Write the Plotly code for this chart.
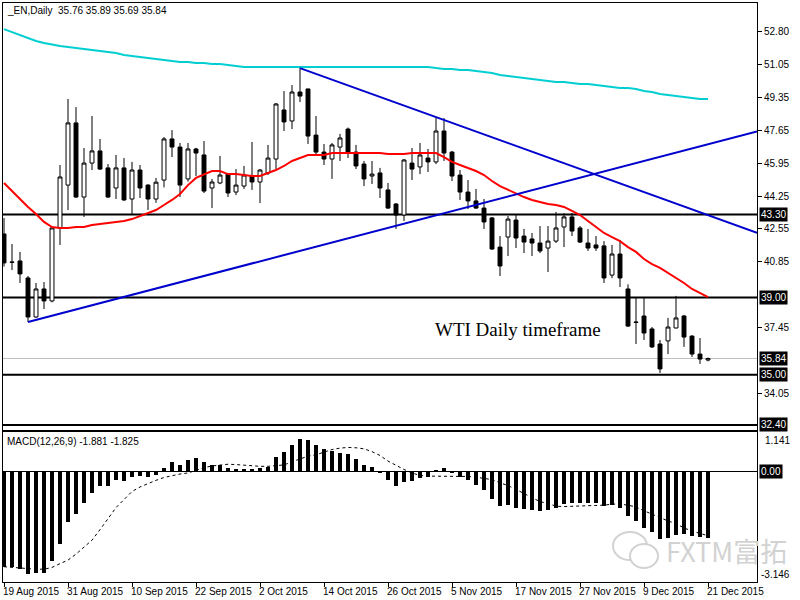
import plotly.graph_objects as go

# bar index 0 = 19 Aug 2015 ... 88 = 21 Dec 2015 (daily bars)
bars = list(range(89))

opens = [42.29, 40.84, 40.89, 40.01, 37.99, 39.44, 38.82, 42.60, 44.82, 48.04,
         44.20, 45.96, 46.59, 45.71, 44.67, 45.71, 44.10, 45.60, 44.82, 44.10,
         45.08, 47.21, 46.79, 45.14, 46.69, 46.38, 44.67, 44.93, 45.39, 44.46,
         44.77, 45.29, 44.98, 45.45, 46.17, 48.71, 48.14, 49.64, 49.80, 47.41,
         46.53, 46.17, 46.79, 47.72, 46.53, 45.91, 45.29, 45.45, 44.57, 43.84,
         43.27, 45.96, 45.76, 46.22, 46.02, 47.62, 46.53, 45.34, 44.46, 44.00,
         43.63, 43.12, 41.61, 42.13, 43.01, 42.18, 42.03, 41.82, 41.56, 41.92,
         42.65, 43.17, 42.60, 41.82, 41.72, 41.67, 40.16, 41.25, 39.44, 37.73,
         38.04, 37.37, 36.59, 36.75, 37.42, 38.04, 37.00, 36.07, 35.76]
highs = [43.12, 41.77, 41.36, 40.11, 39.75, 39.80, 42.65, 45.86, 49.28, 48.86,
         46.74, 48.40, 47.21, 45.91, 46.38, 46.22, 46.02, 45.86, 44.87, 45.19,
         47.31, 47.67, 47.00, 47.00, 46.75, 47.10, 45.14, 46.33, 45.45, 45.65,
         45.81, 47.05, 45.65, 46.90, 49.07, 49.69, 50.00, 50.88, 49.80, 48.40,
         46.95, 47.00, 47.47, 47.80, 46.90, 46.07, 46.07, 45.71, 44.93, 43.89,
         46.17, 46.74, 47.00, 46.69, 48.35, 48.29, 46.59, 45.60, 45.08, 44.62,
         44.10, 43.17, 42.18, 43.22, 43.27, 42.55, 42.34, 42.70, 42.70, 43.43,
         43.37, 43.37, 42.70, 42.55, 42.18, 41.92, 41.72, 41.98, 39.68, 39.02,
         38.97, 37.47, 36.80, 37.94, 39.08, 38.10, 37.05, 36.90, 35.89]
lows = [40.60, 40.42, 39.75, 37.73, 37.95, 38.40, 38.75, 41.72, 43.53, 44.15,
        43.17, 45.60, 45.60, 44.15, 44.10, 44.00, 43.27, 44.15, 43.53, 43.90,
        44.70, 46.27, 44.20, 45.00, 45.29, 44.41, 43.63, 44.87, 44.20, 44.30,
        44.62, 44.57, 43.89, 45.34, 45.65, 47.62, 47.72, 49.12, 46.95, 46.38,
        45.86, 45.14, 46.07, 46.22, 45.65, 44.77, 44.88, 44.15, 43.58, 42.55,
        42.96, 45.08, 45.39, 45.50, 45.91, 46.07, 45.03, 44.05, 43.58, 43.58,
        42.55, 41.46, 40.11, 41.15, 41.56, 41.30, 41.15, 41.30, 40.32, 41.82,
        41.61, 42.18, 41.82, 41.41, 41.41, 39.75, 40.00, 39.54, 37.47, 36.59,
        36.80, 36.38, 35.09, 36.07, 37.40, 36.44, 35.92, 35.56, 35.69]
closes = [40.79, 40.82, 40.22, 37.99, 39.44, 38.82, 42.60, 45.24, 48.04, 44.20,
          45.96, 46.59, 45.65, 44.20, 45.71, 44.05, 45.60, 44.67, 44.10, 44.97,
          47.21, 46.79, 44.82, 46.69, 46.48, 44.51, 44.98, 45.34, 44.41, 44.82,
          45.34, 44.98, 45.60, 46.22, 49.02, 48.09, 49.64, 49.43, 47.36, 46.53,
          46.17, 46.90, 47.26, 46.48, 45.81, 45.14, 45.39, 44.67, 43.63, 43.27,
          46.12, 45.65, 46.38, 46.02, 47.62, 46.48, 45.29, 44.46, 44.00, 43.63,
          42.91, 41.51, 40.63, 43.06, 42.08, 41.87, 41.82, 41.41, 41.92, 42.60,
          43.17, 42.44, 41.87, 41.56, 41.56, 40.01, 41.25, 40.01, 37.52, 37.71,
          37.16, 36.44, 35.30, 37.47, 37.94, 36.95, 36.07, 35.81, 35.84]

ma_fast = [44.93, 44.51, 44.10, 43.69, 43.32, 42.91, 42.65, 42.60, 42.60, 42.65,
           42.65, 42.75, 42.81, 42.86, 42.91, 42.96, 43.06, 43.22, 43.37, 43.53,
           43.79, 44.05, 44.36, 44.82, 45.19, 45.39, 45.55, 45.55, 45.39, 45.39,
           45.34, 45.29, 45.29, 45.45, 45.60, 45.81, 46.07, 46.22, 46.38, 46.38,
           46.38, 46.48, 46.48, 46.48, 46.48, 46.48, 46.48, 46.48, 46.43, 46.43,
           46.43, 46.48, 46.48, 46.48, 46.48, 46.27, 46.02, 45.86, 45.71, 45.55,
           45.34, 45.03, 44.77, 44.57, 44.41, 44.20, 44.05, 43.94, 43.84, 43.79,
           43.69, 43.48, 43.27, 42.96, 42.65, 42.34, 42.13, 41.92, 41.61, 41.36,
           40.99, 40.73, 40.53, 40.27, 40.01, 39.75, 39.44, 39.23, 39.02]
ma_slow = [52.90, 52.75, 52.59, 52.44, 52.28, 52.18, 52.08, 52.02, 51.97, 51.92,
           51.87, 51.82, 51.76, 51.71, 51.66, 51.56, 51.51, 51.45, 51.40, 51.35,
           51.30, 51.25, 51.19, 51.19, 51.14, 51.14, 51.09, 51.09, 51.04, 50.99,
           50.94, 50.94, 50.94, 50.94, 50.94, 50.94, 50.94, 50.94, 50.94, 50.94,
           50.94, 50.94, 50.94, 50.94, 50.94, 50.94, 50.94, 50.94, 50.94, 50.94,
           50.94, 50.94, 50.94, 50.94, 50.88, 50.83, 50.83, 50.78, 50.78, 50.73,
           50.68, 50.62, 50.52, 50.47, 50.42, 50.37, 50.31, 50.26, 50.21, 50.16,
           50.16, 50.11, 50.06, 50.06, 50.00, 49.95, 49.90, 49.85, 49.85, 49.80,
           49.69, 49.64, 49.54, 49.49, 49.43, 49.38, 49.33, 49.28, 49.28]

macd_main = [-2.73, -2.73, -2.78, -2.92, -2.90, -2.90, -2.54, -2.07, -1.44, -1.21,
             -0.90, -0.59, -0.41, -0.39, -0.24, -0.27, -0.14, -0.12, -0.14, -0.10,
             0.12, 0.27, 0.21, 0.33, 0.39, 0.27, 0.21, 0.21, 0.10, 0.07,
             0.07, 0.07, 0.11, 0.15, 0.44, 0.58, 0.78, 0.95, 0.90, 0.78,
             0.65, 0.59, 0.55, 0.50, 0.38, 0.21, 0.13, -0.03, -0.24, -0.41,
             -0.30, -0.27, -0.17, -0.14, 0.03, 0.10, -0.02, -0.14, -0.24, -0.38,
             -0.52, -0.76, -0.98, -0.95, -1.02, -1.07, -1.10, -1.12, -1.10, -1.03,
             -0.92, -0.88, -0.88, -0.88, -0.88, -0.97, -0.94, -1.04, -1.27, -1.41,
             -1.59, -1.72, -1.92, -1.90, -1.81, -1.78, -1.84, -1.86, -1.881]
macd_signal = [-2.71, -2.73, -2.75, -2.77, -2.78, -2.78, -2.73, -2.62, -2.52, -2.35,
               -2.16, -1.95, -1.65, -1.32, -1.02, -0.79, -0.56, -0.43, -0.33, -0.24,
               -0.16, -0.10, -0.06, -0.03, 0.05, 0.12, 0.17, 0.20, 0.22, 0.21,
               0.19, 0.17, 0.16, 0.16, 0.17, 0.20, 0.29, 0.38, 0.45, 0.49,
               0.56, 0.64, 0.68, 0.70, 0.69, 0.66, 0.58, 0.47, 0.31, 0.18,
               0.07, -0.03, -0.10, -0.12, -0.12, -0.12, -0.12, -0.12, -0.13, -0.15,
               -0.18, -0.22, -0.31, -0.39, -0.50, -0.62, -0.73, -0.85, -0.90, -0.98,
               -0.99, -0.98, -0.97, -0.97, -0.97, -0.95, -0.92, -0.92, -0.95, -1.00,
               -1.11, -1.21, -1.30, -1.40, -1.48, -1.60, -1.69, -1.76, -1.825]

# trend lines (bar index, price)
trend_up_x = [3, 94.125]
trend_up_y = [37.73, 47.60]
trend_down_x = [37, 94.125]
trend_down_y = [50.88, 42.35]

levels = [43.30, 39.00, 35.00, 32.40]
last_price = 35.84

price_ticks = [52.80, 51.05, 49.35, 47.65, 45.95, 44.25, 42.55, 40.85, 37.45, 34.05]
date_idx = [0, 8, 16, 24, 32, 40, 48, 56, 64, 72, 80, 88]
date_labels = ["19 Aug 2015", "31 Aug 2015", "10 Sep 2015", "22 Sep 2015", "2 Oct 2015",
               "14 Oct 2015", "26 Oct 2015", "5 Nov 2015", "17 Nov 2015", "27 Nov 2015",
               "9 Dec 2015", "21 Dec 2015"]
macd_top, macd_bottom = 1.141, -3.146

FONT = "Liberation Sans"
FS = 10

fig = go.Figure()

fig.add_trace(go.Candlestick(
    x=bars, open=opens, high=highs, low=lows, close=closes,
    increasing=dict(line=dict(color="black", width=1), fillcolor="white"),
    decreasing=dict(line=dict(color="black", width=1), fillcolor="black"),
    showlegend=False, hoverinfo="skip", xaxis="x", yaxis="y"))
fig.add_trace(go.Scatter(x=bars, y=ma_slow, mode="lines", line=dict(color="#00CED1", width=2),
                         showlegend=False, hoverinfo="skip"))
fig.add_trace(go.Scatter(x=bars, y=ma_fast, mode="lines", line=dict(color="#FF0000", width=2),
                         showlegend=False, hoverinfo="skip"))
fig.add_trace(go.Scatter(x=trend_up_x, y=trend_up_y, mode="lines", line=dict(color="#0000CD", width=2),
                         showlegend=False, hoverinfo="skip"))
fig.add_trace(go.Scatter(x=trend_down_x, y=trend_down_y, mode="lines", line=dict(color="#0000CD", width=2),
                         showlegend=False, hoverinfo="skip"))

# MACD panel
fig.add_trace(go.Bar(x=bars, y=macd_main, marker=dict(color="black", line=dict(width=0)), width=0.4,
                     showlegend=False, hoverinfo="skip", xaxis="x2", yaxis="y2"))
fig.add_trace(go.Scatter(x=bars, y=macd_signal, mode="lines", line=dict(color="black", width=1, dash="dot"),
                         showlegend=False, hoverinfo="skip", xaxis="x2", yaxis="y2"))

for lv in levels:
    fig.add_shape(type="line", xref="x domain", yref="y", x0=0, x1=1, y0=lv, y1=lv,
                  line=dict(color="black", width=2), layer="below")
fig.add_shape(type="line", xref="x domain", yref="y", x0=0, x1=1, y0=last_price, y1=last_price,
              line=dict(color="#C0C0C0", width=1), layer="below")

ann = []
for lv in levels + [last_price]:
    ann.append(dict(x=759 / 800, xref="paper", y=lv, yref="y", text="%.2f" % lv, showarrow=False,
                    xanchor="left", yanchor="middle", bgcolor="black",
                    font=dict(family=FONT, size=FS, color="white"), borderpad=1))
ann.append(dict(x=759 / 800, xref="paper", y=0, yref="y2", text="0.00", showarrow=False,
                xanchor="left", yanchor="middle", bgcolor="black",
                font=dict(family=FONT, size=FS, color="white"), borderpad=1))
ann.append(dict(x=763 / 800, xref="paper", y=macd_top, yref="y2", text="%.3f" % macd_top, showarrow=False,
                xanchor="left", yanchor="top", yshift=-1, font=dict(family=FONT, size=FS, color="black")))
ann.append(dict(x=759 / 800, xref="paper", y=macd_bottom, yref="y2", text="%.3f" % macd_bottom, showarrow=False,
                xanchor="left", yanchor="bottom", yshift=0, font=dict(family=FONT, size=FS, color="black")))
for i, lab in zip(date_idx, date_labels):
    ann.append(dict(x=i, xref="x2", y=9 / 600, yref="paper", text=lab, showarrow=False,
                    xanchor="left", yanchor="middle", xshift=-3,
                    font=dict(family=FONT, size=FS, color="black")))
ann.append(dict(x=5 / 800, xref="paper", y=589 / 600, yref="paper",
                text="_EN,Daily  %.2f %.2f %.2f %.2f" % (opens[-1], highs[-1], lows[-1], closes[-1]),
                showarrow=False, xanchor="left", yanchor="middle",
                font=dict(family=FONT, size=FS, color="black")))
ann.append(dict(x=5 / 800, xref="paper", y=159 / 600, yref="paper",
                text="MACD(12,26,9) %.3f %.3f" % (macd_main[-1], macd_signal[-1]),
                showarrow=False, xanchor="left", yanchor="middle",
                font=dict(family=FONT, size=FS, color="black")))
ann.append(dict(x=53.6, xref="x", y=37.32, yref="y", text="WTI Daily timeframe", showarrow=False,
                xanchor="left", yanchor="middle",
                font=dict(family="Liberation Serif", size=19, color="black")))
ann.append(dict(x=664 / 800, xref="paper", y=50 / 600, yref="paper", text="FXTM富拓", showarrow=False,
                xanchor="left", yanchor="middle",
                font=dict(family="Noto Sans CJK SC", size=27, color="#D2D2D2")))

# watermark logo (two speech bubbles)
fig.add_shape(type="circle", xref="paper", yref="paper", x0=613 / 800, x1=647 / 800, y0=40 / 600, y1=68 / 600,
              line=dict(color="#D2D2D2", width=2))
fig.add_shape(type="circle", xref="paper", yref="paper", x0=630 / 800, x1=658 / 800, y0=32 / 600, y1=56 / 600,
              line=dict(color="#D2D2D2", width=2), fillcolor="white")

xr = [-0.125, 94.125]
fig.update_layout(
    width=800, height=600, margin=dict(l=0, r=0, t=0, b=0),
    paper_bgcolor="white", plot_bgcolor="white",
    showlegend=False, bargap=0, annotations=ann,
    xaxis=dict(domain=[3 / 800, 757 / 800], range=xr, anchor="y", showticklabels=False, showgrid=False,
               zeroline=False, showline=True, mirror=True, linecolor="black", linewidth=1,
               rangeslider=dict(visible=False), ticks=""),
    yaxis=dict(domain=[170 / 600, 597 / 600], range=[32.137, 54.25], anchor="x", side="right",
               tickvals=price_ticks, ticktext=["%.2f" % v for v in price_ticks],
               ticks="outside", ticklen=4, tickcolor="black", showgrid=False, zeroline=False,
               showline=True, mirror=True, linecolor="black", linewidth=1,
               tickfont=dict(family=FONT, size=FS, color="black")),
    xaxis2=dict(domain=[3 / 800, 757 / 800], range=xr, anchor="y2", showticklabels=False, showgrid=False,
                zeroline=False, showline=True, mirror=True, linecolor="black", linewidth=1,
                tickvals=date_idx, ticks="outside", ticklen=4, tickcolor="black"),
    yaxis2=dict(domain=[18 / 600, 168 / 600], range=[macd_bottom, macd_top], anchor="x2", side="right",
                showticklabels=False, showgrid=False, zeroline=True, zerolinecolor="black", zerolinewidth=1,
                showline=True, mirror=True, linecolor="black", linewidth=1, ticks=""),
)

# page body has an 8px default margin; drop it so the 800x600 figure fills the window
fig.write_html("out.html", config={"displayModeBar": False},
               post_script="document.body.style.margin='0';")
